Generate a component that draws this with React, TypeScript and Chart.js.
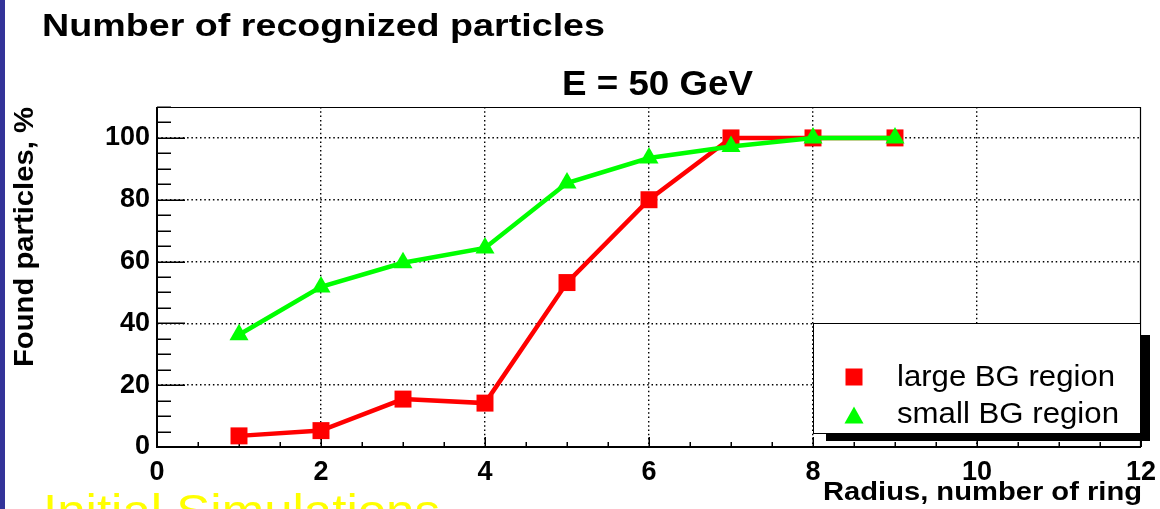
import React, { useEffect, useRef } from "react";
import { Chart, registerables } from "chart.js";

Chart.register(...registerables);

// ---------- data ----------
const radii = [1, 2, 3, 4, 5, 6, 7, 8, 9];
const largeBG = [3.6, 5.3, 15.5, 14.2, 53.2, 80.0, 100, 100, 100];
const smallBG = [36.3, 51.8, 59.6, 64.4, 85.4, 93.5, 97.2, 100, 100];
const seriesLabels = ["large BG region", "small BG region"];
const seriesColors = ["#ff0000", "#00ff00"];
const seriesMarkers = ["rect", "triangle"];
const xTickLabels = [0, 2, 4, 6, 8, 10, 12];
const yTickLabels = [0, 20, 40, 60, 80, 100];
const pageTitle = "Number of recognized particles";
const chartTitle = "E = 50 GeV";
const xTitle = "Radius, number of ring";
const yTitle = "Found particles, %";
const footerText = "Initial Simulations";

const FONT = '"Liberation Sans", Arial, Helvetica, sans-serif';

function fitText(
  ctx: CanvasRenderingContext2D,
  text: string,
  x: number,
  y: number,
  font: string,
  targetWidth: number,
  align: "left" | "center" | "right",
  color = "#000"
) {
  ctx.save();
  ctx.font = font;
  ctx.fillStyle = color;
  ctx.textAlign = "left";
  ctx.textBaseline = "alphabetic";
  const w = ctx.measureText(text).width;
  const sx = targetWidth / w;
  let x0 = x;
  if (align === "center") x0 = x - targetWidth / 2;
  else if (align === "right") x0 = x - targetWidth;
  ctx.translate(x0, y);
  ctx.scale(sx, 1);
  ctx.fillText(text, 0, 0);
  ctx.restore();
}

const decorPlugin = {
  id: "rootDecor",
  beforeDraw(chart: any) {
    const ctx = chart.ctx as CanvasRenderingContext2D;
    ctx.save();
    ctx.fillStyle = "#ffffff";
    ctx.fillRect(0, 0, chart.width, chart.height);
    ctx.fillStyle = "#333399";
    ctx.fillRect(0, 0, 5, chart.height);
    ctx.restore();
  },
  beforeDatasetsDraw(chart: any) {
    const ctx = chart.ctx as CanvasRenderingContext2D;
    const { left, right, top, bottom } = chart.chartArea;
    const xs = chart.scales.x;
    const ys = chart.scales.y;
    ctx.save();
    ctx.strokeStyle = "#000";
    // frame top/right
    ctx.lineWidth = 1.2;
    ctx.beginPath();
    ctx.moveTo(left, top + 0.5);
    ctx.lineTo(right - 0.5, top + 0.5);
    ctx.lineTo(right - 0.5, bottom);
    ctx.stroke();
    // ticks
    ctx.lineWidth = 1.5;
    for (let v = 0; v <= ys.max + 1e-6; v += 5) {
      const py = Math.round(ys.getPixelForValue(v)) + 0.25;
      const len = v % 20 === 0 ? 28 : 14;
      ctx.beginPath();
      ctx.moveTo(left, py);
      ctx.lineTo(left + len, py);
      ctx.stroke();
    }
    for (let v = 0; v <= xs.max + 1e-6; v += 0.5) {
      const px = Math.round(xs.getPixelForValue(v)) + 0.25;
      const len = v % 2 === 0 ? 10 : 5;
      ctx.beginPath();
      ctx.moveTo(px, bottom);
      ctx.lineTo(px, bottom - len);
      ctx.stroke();
    }
    // axes
    ctx.lineWidth = 2;
    ctx.beginPath();
    ctx.moveTo(left, top);
    ctx.lineTo(left, bottom);
    ctx.lineTo(right, bottom);
    ctx.stroke();
    ctx.restore();
  },
  afterDraw(chart: any) {
    const ctx = chart.ctx as CanvasRenderingContext2D;
    const { top } = chart.chartArea;
    // titles
    fitText(ctx, pageTitle, 42, 36, `bold 32px ${FONT}`, 563, "left");
    fitText(ctx, chartTitle, 657.5, 95, `bold 35px ${FONT}`, 191, "center");
    fitText(ctx, xTitle, 1142, 500, `bold 26px ${FONT}`, 319, "right");
    // y title rotated
    ctx.save();
    ctx.translate(33, top);
    ctx.rotate(-Math.PI / 2);
    fitText(ctx, yTitle, 0, 0, `bold 28px ${FONT}`, 260, "right");
    ctx.restore();
    // footer
    fitText(ctx, footerText, 43, 527, `46px ${FONT}`, 397, "left", "#ffff00");

    // legend
    ctx.save();
    ctx.fillStyle = "#000";
    ctx.fillRect(826, 335, 1150 - 826, 441 - 335);
    ctx.fillStyle = "#fff";
    ctx.fillRect(813, 323, 1141 - 813, 434 - 323);
    ctx.strokeStyle = "#000";
    ctx.lineWidth = 1;
    ctx.strokeRect(813.5, 323.5, 1141 - 813 - 1, 434 - 323 - 1);
    const rows = [
      { cy: 377, base: 386 },
      { cy: 415.5, base: 423 },
    ];
    chart.data.datasets.forEach((ds: any) => {
      const i = ds.legendIndex;
      const r = rows[i];
      ctx.fillStyle = seriesColors[i];
      if (seriesMarkers[i] === "rect") {
        ctx.fillRect(854 - 8.5, r.cy - 8.5, 17, 17);
      } else {
        ctx.beginPath();
        ctx.moveTo(854, r.cy - 9);
        ctx.lineTo(854 + 9.5, r.cy + 8);
        ctx.lineTo(854 - 9.5, r.cy + 8);
        ctx.closePath();
        ctx.fill();
      }
      fitText(ctx, seriesLabels[i], 897, r.base, `29px ${FONT}`, i === 0 ? 218 : 222, "left");
    });
    ctx.restore();
  },
};

export default function App() {
  const ref = useRef<HTMLCanvasElement | null>(null);
  useEffect(() => {
    if (!ref.current) return;
    const Y_AXIS_W = 60;
    const X_AXIS_H = 40;
    const mk = (vals: number[]) => radii.map((x, i) => ({ x, y: vals[i] }));
    const chart = new Chart(ref.current, {
      type: "line",
      data: {
        datasets: [
          {
            label: seriesLabels[1],
            legendIndex: 1,
            order: 0,
            data: mk(smallBG),
            borderColor: seriesColors[1],
            backgroundColor: seriesColors[1],
            borderWidth: 4.5,
            pointStyle: seriesMarkers[1],
            pointRadius: 11,
            pointBorderWidth: 0,
            tension: 0,
          } as any,
          {
            label: seriesLabels[0],
            legendIndex: 0,
            order: 1,
            data: mk(largeBG),
            borderColor: seriesColors[0],
            backgroundColor: seriesColors[0],
            borderWidth: 4.5,
            pointStyle: seriesMarkers[0],
            pointRadius: 12,
            pointBorderWidth: 0,
            tension: 0,
          } as any,
        ],
      },
      options: {
        responsive: false,
        animation: false,
        devicePixelRatio: 1,
        layout: {
          padding: {
            left: 157 - Y_AXIS_W,
            top: 107,
            right: 19,
            bottom: 509 - 447 - X_AXIS_H,
          },
        },
        plugins: {
          legend: { display: false },
          title: { display: false },
          tooltip: { enabled: false },
        },
        scales: {
          x: {
            type: "linear",
            min: 0,
            max: 12,
            afterFit: (s: any) => {
              s.height = X_AXIS_H;
              s.paddingLeft = 0;
              s.paddingRight = 0;
              s.paddingTop = 0;
              s.paddingBottom = 0;
            },
            afterBuildTicks: (s: any) => {
              s.ticks = xTickLabels.map((v) => ({ value: v }));
            },
            ticks: {
              color: "#000",
              padding: 9,
              maxRotation: 0,
              autoSkip: false,
              font: { family: FONT, size: 27, weight: "bold" },
            },
            grid: {
              drawTicks: false,
              lineWidth: 1.4,
              color: (c: any) =>
                c.tick && c.tick.value > 0 && c.tick.value < 12 ? "#000" : "rgba(0,0,0,0)",
            },
            border: { display: false, dash: [1.5, 2.8] },
          },
          y: {
            type: "linear",
            min: 0,
            max: 110,
            afterFit: (s: any) => {
              s.width = Y_AXIS_W;
              s.paddingLeft = 0;
              s.paddingRight = 0;
              s.paddingTop = 0;
              s.paddingBottom = 0;
            },
            afterBuildTicks: (s: any) => {
              s.ticks = yTickLabels.map((v) => ({ value: v }));
            },
            ticks: {
              color: "#000",
              padding: 7,
              autoSkip: false,
              font: { family: FONT, size: 27, weight: "bold" },
            },
            grid: {
              drawTicks: false,
              lineWidth: 1.4,
              color: (c: any) =>
                c.tick && c.tick.value > 0 ? "#000" : "rgba(0,0,0,0)",
            },
            border: { display: false, dash: [1.5, 2.8] },
          },
        },
      } as any,
      plugins: [decorPlugin],
    });
    return () => chart.destroy();
  }, []);
  return (
    <div style={{ position: "absolute", left: 0, top: 0, width: 1160, height: 509, overflow: "hidden" }}>
      <canvas ref={ref} width={1160} height={509} style={{ display: "block" }} />
    </div>
  );
}
